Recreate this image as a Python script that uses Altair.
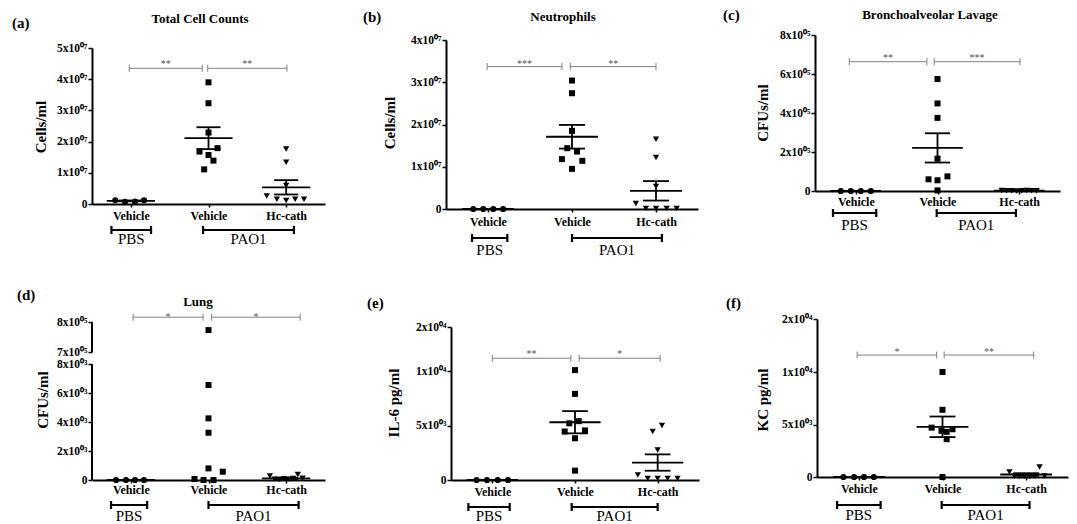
import altair as alt
import pandas as pd

FONT = "Liberation Serif, Times New Roman, serif"
X_LABELS = ["Vehicle", "Vehicle", "Hc-cath"]
TREATMENTS = ["PBS", "PAO1"]

# ---------------- (a) Total Cell Counts ----------------
A_TITLE = "Total Cell Counts"
A_YTITLE = "Cells/ml"
A_PBS = [1.2e6, 0.7e6, 0.8e6, 1.2e6]
A_VEH = [3.90e7, 3.23e7, 2.29e7, 1.68e7, 1.79e7, 1.57e7, 1.39e7, 1.11e7]
A_HC = [1.76e7, 1.34e7, 5.9e6, 2.6e6, 1.5e6, 1.1e6, 1.5e6, 1.5e6]
A_PBS_J = [-0.20, -0.075, 0.054, 0.17]
A_VEH_J = [0, 0, 0, -0.116, 0.116, 0, 0.064, -0.056]
A_HC_J = [0, 0, 0, -0.25, -0.12, 0, 0.116, 0.23]
A_MEAN = [1.0e6, 2.11e7, 5.35e6]
A_SEM = [0.13e6, 0.35e7, 2.3e6]
A_TICKS = [0, 1e7, 2e7, 3e7, 4e7, 5e7]
A_TICK_LABELS = ["0", "1x10⁰⁷", "2x10⁰⁷", "3x10⁰⁷", "4x10⁰⁷", "5x10⁰⁷"]
A_SIG_FROM = [0.98, 1.99]
A_SIG_TO = [1.92, 3.01]
A_SIG_LEVEL = 4.35e7
A_SIG_STARS = ["**", "**"]
A_BR_FROM = [0.75, 1.93]
A_BR_TO = [1.26, 3.10]

# ---------------- (b) Neutrophils ----------------
B_TITLE = "Neutrophils"
B_YTITLE = "Cells/ml"
B_PBS = [0, 0, 0, 0]
B_VEH = [3.04e7, 2.74e7, 1.85e7, 1.44e7, 1.36e7, 1.18e7, 1.14e7, 0.95e7]
B_HC = [1.65e7, 1.22e7, 5.3e6, 1.3e6, 0.15e6, 0.15e6, 0.15e6, 0.15e6]
B_PBS_J = [-0.175, -0.056, 0.063, 0.18]
B_VEH_J = [0, 0, 0, -0.056, 0.06, -0.12, 0.123, 0]
B_HC_J = [0, 0, 0, -0.24, -0.12, 0, 0.127, 0.246]
B_MEAN = [0, 1.71e7, 4.3e6]
B_SEM = [0, 0.28e7, 2.3e6]
B_TICKS = [0, 1e7, 2e7, 3e7, 4e7]
B_TICK_LABELS = ["0", "1x10⁰⁷", "2x10⁰⁷", "3x10⁰⁷", "4x10⁰⁷"]
B_SIG_FROM = [0.99, 1.98]
B_SIG_TO = [1.88, 3.0]
B_SIG_LEVEL = 3.37e7
B_SIG_STARS = ["***", "**"]
B_BR_FROM = [0.81, 2.0]
B_BR_TO = [1.23, 3.07]

# ---------------- (c) Bronchoalveolar Lavage ----------------
C_TITLE = "Bronchoalveolar Lavage"
C_YTITLE = "CFUs/ml"
C_PBS = [0, 0, 0, 0]
C_VEH = [5.74e5, 4.49e5, 3.75e5, 1.66e5, 0.6e5, 0.55e5, 0.75e5, 0.03e5]
C_HC = [2000, 1000, 1500, 500, 1000, 2000, 1500, 1000]
C_PBS_J = [-0.184, -0.061, 0.061, 0.184]
C_VEH_J = [0, 0, 0, 0, -0.11, 0, 0.122, 0]
C_HC_J = [-0.214, -0.153, -0.092, -0.031, 0.031, 0.092, 0.153, 0.214]
C_MEAN = [0, 2.21e5, 1300]
C_SEM = [0, 0.75e5, 200]
C_TICKS = [0, 2e5, 4e5, 6e5, 8e5]
C_TICK_LABELS = ["0", "2x10⁰⁵", "4x10⁰⁵", "6x10⁰⁵", "8x10⁰⁵"]
C_SIG_FROM = [0.92, 1.96]
C_SIG_TO = [1.87, 3.01]
C_SIG_LEVEL = 6.63e5
C_SIG_STARS = ["**", "***"]
C_BR_FROM = [0.72, 1.99]
C_BR_TO = [1.25, 2.96]

# ---------------- (d) Lung (broken axis) ----------------
D_TITLE = "Lung"
D_YTITLE = "CFUs/ml"
D_PBS = [0, 0, 0, 0]
D_VEH = [7.73e5, 6.55e3, 4.25e3, 3.26e3, 0.8e3, 0.57e3, 0.07e3, 0, 0]
D_HC = [280, 60, 40, 80, 60, 100, 380, 120]
D_PBS_J = [-0.19, -0.062, 0.054, 0.17]
D_VEH_J = [0, 0, 0, 0, 0, 0.184, -0.18, -0.064, 0.064]
D_HC_J = [-0.21, -0.15, -0.09, -0.03, 0.03, 0.09, 0.15, 0.21]
D_MEAN = [0, None, 115]
D_SEM = [0, None, 45]
D_TICKS = [0, 2000, 4000, 6000, 8000, 700000, 800000]
D_TICK_LABELS = ["0", "2x10⁰³", "4x10⁰³", "6x10⁰³", "8x10⁰³", "7x10⁰⁵", "8x10⁰⁵"]
D_AXIS_SEGMENTS = [(0, 8000), (700000, 800000)]
D_SIG_FROM = [1.03, 2.04]
D_SIG_TO = [1.93, 3.18]
D_SIG_LEVEL = 8.16e5
D_SIG_STARS = ["*", "*"]
D_BR_FROM = [0.745, 2.0]
D_BR_TO = [1.21, 3.16]

# ---------------- (e) IL-6 ----------------
E_YTITLE = "IL-6 pg/ml"
E_PBS = [0, 0, 0, 0]
E_VEH = [1.02e4, 7.9e3, 5.4e3, 5.2e3, 4.45e3, 4.55e3, 3.83e3, 0.86e3]
E_HC = [4.45e3, 5.0e3, 2.76e3, 0.46e3, 0.15e3, 0.15e3, 0.15e3, 0.15e3]
E_PBS_J = [-0.19, -0.065, 0.065, 0.19]
E_VEH_J = [0, 0, 0.045, -0.069, -0.125, 0.121, 0, 0]
E_HC_J = [-0.06, 0.052, 0, -0.24, -0.12, 0, 0.12, 0.24]
E_MEAN = [0, 5.3e3, 1.6e3]
E_SEM = [0, 1.02e3, 0.75e3]
E_TICKS = [0, 5000, 10000, 20000]
E_TICK_LABELS = ["0", "5x10⁰³", "1x10⁰⁴", "2x10⁰⁴"]
E_SIG_FROM = [1.0, 2.05]
E_SIG_TO = [1.95, 3.03]
E_SIG_LEVEL = 1.29e4
E_SIG_STARS = ["**", "*"]
E_BR_FROM = [0.71, 1.96]
E_BR_TO = [1.21, 3.0]

# ---------------- (f) KC ----------------
F_YTITLE = "KC pg/ml"
F_PBS = [0, 0, 0, 0]
F_VEH = [1.0e4, 6.4e3, 4.7e3, 4.55e3, 4.4e3, 4.3e3, 3.6e3, 0]
F_HC = [480, 100, 50, 100, 50, 100, 960, 100]
F_PBS_J = [-0.185, -0.057, 0.062, 0.18]
F_VEH_J = [0, 0, -0.13, 0.12, -0.012, 0.05, 0.05, 0]
F_HC_J = [-0.2, -0.14, -0.08, -0.02, 0.04, 0.1, 0.16, 0.22]
F_MEAN = [0, 4.78e3, 0.24e3]
F_SEM = [0, 0.98e3, 0.12e3]
F_TICKS = [0, 5000, 10000, 20000]
F_TICK_LABELS = ["0", "5x10⁰³", "1x10⁰⁴", "2x10⁰⁴"]
F_SIG_FROM = [0.98, 2.02]
F_SIG_TO = [1.93, 3.09]
F_SIG_LEVEL = 1.32e4
F_SIG_STARS = ["*", "**"]
F_BR_FROM = [0.74, 1.99]
F_BR_TO = [1.26, 3.04]

# ---------------- layout (pixels in the page picture) ----------------
TOTAL_W, TOTAL_H = 1061, 516
OX, OY = 8, 8   # page margin

GEOM = {
    "a": dict(L=92, T=48, W=233, H=156, letter=(12, 22.5), title=(200, 18.5),
              ytitle=(41, 127), xpad=4, br=26, brt=35, sdy=-1),
    "b": dict(L=446, T=40, W=252, H=169, letter=(363, 17), title=(563, 17),
              ytitle=(390, 123), xpad=5, br=29, brt=41, sdy=0),
    "c": dict(L=815, T=35, W=245, H=156, letter=(723, 15), title=(930, 15),
              ytitle=(763, 113), xpad=3, br=22, brt=34, sdy=-1),
    "d": dict(L=92, T=322, W=233, H=158, letter=(17, 295), title=(198, 302),
              ytitle=(43, 400), xpad=2, br=25, brt=35.5, sdy=2.5, yrange=[158, 42, 30, 0]),
    "e": dict(L=451, T=327, W=248, H=153, letter=(367, 303), title=None,
              ytitle=(394, 403), xpad=4, br=27, brt=36, sdy=-1, yrange=[153, 44, 0]),
    "f": dict(L=817, T=319, W=251, H=158, letter=(726, 303), title=None,
              ytitle=(763, 400), xpad=4, br=28, brt=37.5, sdy=0, yrange=[158, 53, 0]),
}

PANELS = {
    "a": dict(title=A_TITLE, ytitle=A_YTITLE, groups=[(A_PBS, A_PBS_J), (A_VEH, A_VEH_J), (A_HC, A_HC_J)],
              mean=A_MEAN, sem=A_SEM, ticks=A_TICKS, labels=A_TICK_LABELS, ydomain=[0, 5e7],
              sig=(A_SIG_FROM, A_SIG_TO, A_SIG_LEVEL, A_SIG_STARS), br=(A_BR_FROM, A_BR_TO)),
    "b": dict(title=B_TITLE, ytitle=B_YTITLE, groups=[(B_PBS, B_PBS_J), (B_VEH, B_VEH_J), (B_HC, B_HC_J)],
              mean=B_MEAN, sem=B_SEM, ticks=B_TICKS, labels=B_TICK_LABELS, ydomain=[0, 4e7],
              sig=(B_SIG_FROM, B_SIG_TO, B_SIG_LEVEL, B_SIG_STARS), br=(B_BR_FROM, B_BR_TO)),
    "c": dict(title=C_TITLE, ytitle=C_YTITLE, groups=[(C_PBS, C_PBS_J), (C_VEH, C_VEH_J), (C_HC, C_HC_J)],
              mean=C_MEAN, sem=C_SEM, ticks=C_TICKS, labels=C_TICK_LABELS, ydomain=[0, 8e5],
              sig=(C_SIG_FROM, C_SIG_TO, C_SIG_LEVEL, C_SIG_STARS), br=(C_BR_FROM, C_BR_TO)),
    "d": dict(title=D_TITLE, ytitle=D_YTITLE, groups=[(D_PBS, D_PBS_J), (D_VEH, D_VEH_J), (D_HC, D_HC_J)],
              mean=D_MEAN, sem=D_SEM, ticks=D_TICKS, labels=D_TICK_LABELS, ydomain=[0, 8000, 700000, 800000],
              sig=(D_SIG_FROM, D_SIG_TO, D_SIG_LEVEL, D_SIG_STARS), br=(D_BR_FROM, D_BR_TO),
              segments=D_AXIS_SEGMENTS),
    "e": dict(title=None, ytitle=E_YTITLE, groups=[(E_PBS, E_PBS_J), (E_VEH, E_VEH_J), (E_HC, E_HC_J)],
              mean=E_MEAN, sem=E_SEM, ticks=E_TICKS, labels=E_TICK_LABELS, ydomain=[0, 10000, 20000],
              sig=(E_SIG_FROM, E_SIG_TO, E_SIG_LEVEL, E_SIG_STARS), br=(E_BR_FROM, E_BR_TO)),
    "f": dict(title=None, ytitle=F_YTITLE, groups=[(F_PBS, F_PBS_J), (F_VEH, F_VEH_J), (F_HC, F_HC_J)],
              mean=F_MEAN, sem=F_SEM, ticks=F_TICKS, labels=F_TICK_LABELS, ydomain=[0, 10000, 20000],
              sig=(F_SIG_FROM, F_SIG_TO, F_SIG_LEVEL, F_SIG_STARS), br=(F_BR_FROM, F_BR_TO)),
}

SHAPES = ["circle", "square", "triangle-down"]
SHAPE_SIZES = [38, 36, 40]


def label_expr(vals, labels):
    expr = "''"
    for v, lab in reversed(list(zip(vals, labels))):
        expr = f"datum.value == {int(v)} ? '{lab}' : ({expr})"
    return expr


X_EXPR = label_expr([1, 2, 3], X_LABELS)
ONE = pd.DataFrame({"k": [0]})


def build_panel(key):
    p = PANELS[key]
    g = GEOM[key]
    W, H = g["W"], g["H"]
    gx0, gy0 = g["L"] - OX, g["T"] - OY

    xs = alt.Scale(domain=[0.5, 3.5], range=[gx0, gx0 + W], nice=False, zero=False)
    yr = [gy0 + r for r in g["yrange"]] if "yrange" in g else [gy0 + H, gy0]
    ys = alt.Scale(domain=p["ydomain"], range=yr, nice=False, zero=False)

    x_axis = alt.Axis(orient="bottom", offset=gy0 + H - TOTAL_H, values=[1, 2, 3], labelExpr=X_EXPR,
                      title=None, grid=False, domainColor="black", domainWidth=2,
                      tickColor="black", tickWidth=1.5, tickSize=3, labelFont=FONT,
                      labelFontWeight="bold", labelFontSize=12, labelColor="black",
                      labelPadding=g["xpad"] - 1, labelAngle=0, labelFlush=False, labelOverlap=False)
    y_axis = alt.Axis(orient="left", offset=-gx0, values=p["ticks"],
                      labelExpr=label_expr(p["ticks"], p["labels"]), title=None, grid=False,
                      domain=("segments" not in p), domainColor="black", domainWidth=2,
                      tickColor="black", tickWidth=1.5, tickSize=4, labelFont=FONT,
                      labelFontWeight="bold", labelFontSize=11.5, labelColor="black",
                      labelPadding=1, labelFlush=False, labelOverlap=False, labelBound=False)

    def X(f):
        return alt.X(f, type="quantitative", scale=xs, axis=x_axis, title=None)

    def Y(f):
        return alt.Y(f, type="quantitative", scale=ys, axis=y_axis, title=None)

    layers = []

    # points, one layer per group
    for gi, (vals, jit) in enumerate(p["groups"]):
        df = pd.DataFrame({"x": [gi + 1 + j for j in jit], "v": vals})
        layers.append(alt.Chart(df).mark_point(shape=SHAPES[gi], filled=True, color="black",
                                               opacity=1, size=SHAPE_SIZES[gi]).encode(x=X("x"), y=Y("v")))

    # broken axis segments
    if "segments" in p:
        seg = pd.DataFrame({"y0": [s[0] for s in p["segments"]], "y1": [s[1] for s in p["segments"]]})
        layers.append(alt.Chart(seg).mark_rule(color="black", strokeWidth=2).encode(
            x=alt.value(gx0), y=Y("y0"), y2=alt.Y2("y1")))

    # mean +/- SEM
    mrows = []
    for gi, (m, s) in enumerate(zip(p["mean"], p["sem"])):
        if m is None:
            continue
        c = gi + 1
        mrows.append({"c": c, "xl": c - 0.31, "xr": c + 0.31, "sl": c - 0.155, "sr": c + 0.155,
                      "m": m, "lo": m - s, "hi": m + s})
    mdf = pd.DataFrame(mrows)
    layers.append(alt.Chart(mdf).mark_rule(color="black", strokeWidth=1.8).encode(
        x=X("xl"), x2=alt.X2("xr"), y=Y("m")))
    layers.append(alt.Chart(mdf).mark_rule(color="black", strokeWidth=1.8).encode(
        x=X("sl"), x2=alt.X2("sr"), y=Y("lo")))
    layers.append(alt.Chart(mdf).mark_rule(color="black", strokeWidth=1.8).encode(
        x=X("sl"), x2=alt.X2("sr"), y=Y("hi")))
    layers.append(alt.Chart(mdf).mark_rule(color="black", strokeWidth=1.8).encode(
        x=X("c"), y=Y("lo"), y2=alt.Y2("hi")))

    # significance bars
    sf, st, sl, ss = p["sig"]
    sdf = pd.DataFrame({"a": sf, "b": st, "mid": [(u + w) / 2 for u, w in zip(sf, st)],
                        "lvl": [sl] * len(sf), "stars": ss})
    caps = pd.DataFrame({"pos": list(sf) + list(st), "lvl": [sl] * (2 * len(sf))})
    layers.append(alt.Chart(sdf).mark_rule(color="#808080", strokeWidth=1).encode(
        x=X("a"), x2=alt.X2("b"), y=Y("lvl")))
    layers.append(alt.Chart(caps).mark_tick(orient="vertical", color="#808080", opacity=1,
                                            size=7, thickness=1).encode(x=X("pos"), y=Y("lvl")))
    layers.append(alt.Chart(sdf).mark_text(font=FONT, fontSize=10, color="#555555",
                                           baseline="alphabetic", dy=g["sdy"]).encode(
        x=X("mid"), y=Y("lvl"), text="stars:N"))

    # treatment brackets below the axis
    bf, bt = p["br"]
    bdf = pd.DataFrame({"a": bf, "b": bt, "mid": [(u + w) / 2 for u, w in zip(bf, bt)],
                        "lab": TREATMENTS})
    bcaps = pd.DataFrame({"pos": list(bf) + list(bt)})
    by = gy0 + H + g["br"]
    layers.append(alt.Chart(bdf).mark_rule(color="black", strokeWidth=2.2).encode(
        x=X("a"), x2=alt.X2("b"), y=alt.value(by)))
    layers.append(alt.Chart(bcaps).mark_tick(orient="vertical", color="black", opacity=1,
                                             size=8, thickness=2.2).encode(
        x=X("pos"), y=alt.value(by)))
    layers.append(alt.Chart(bdf).mark_text(font=FONT, fontSize=15, color="black",
                                           baseline="middle").encode(
        x=X("mid"), y=alt.value(gy0 + H + g["brt"]), text="lab:N"))

    # texts: letter, title, y title
    layers.append(alt.Chart(ONE).mark_text(font=FONT, fontSize=15, fontWeight="bold", color="black",
                                           align="left", baseline="middle").encode(
        x=alt.value(g["letter"][0] - OX), y=alt.value(g["letter"][1] - OY),
        text=alt.value("(" + key + ")")))
    if p["title"]:
        layers.append(alt.Chart(ONE).mark_text(font=FONT, fontSize=13, fontWeight="bold",
                                               color="black", align="center", baseline="middle").encode(
            x=alt.value(g["title"][0] - OX), y=alt.value(g["title"][1] - OY), text=alt.value(p["title"])))
    layers.append(alt.Chart(ONE).mark_text(font=FONT, fontSize=15, fontWeight="bold", color="black",
                                           align="center", baseline="middle", angle=270).encode(
        x=alt.value(g["ytitle"][0] - OX), y=alt.value(g["ytitle"][1] - OY), text=alt.value(p["ytitle"])))

    return alt.layer(*layers)


chart = (
    alt.layer(*[build_panel(k) for k in "abcdef"])
    .resolve_scale(x="independent", y="independent")
    .resolve_axis(x="independent", y="independent")
    .properties(width=TOTAL_W, height=TOTAL_H, padding=0,
                autosize=alt.AutoSizeParams(type="none"))
    .configure_view(stroke=None)
)

chart.save("out.html", embed_options={"renderer": "svg", "actions": False})
